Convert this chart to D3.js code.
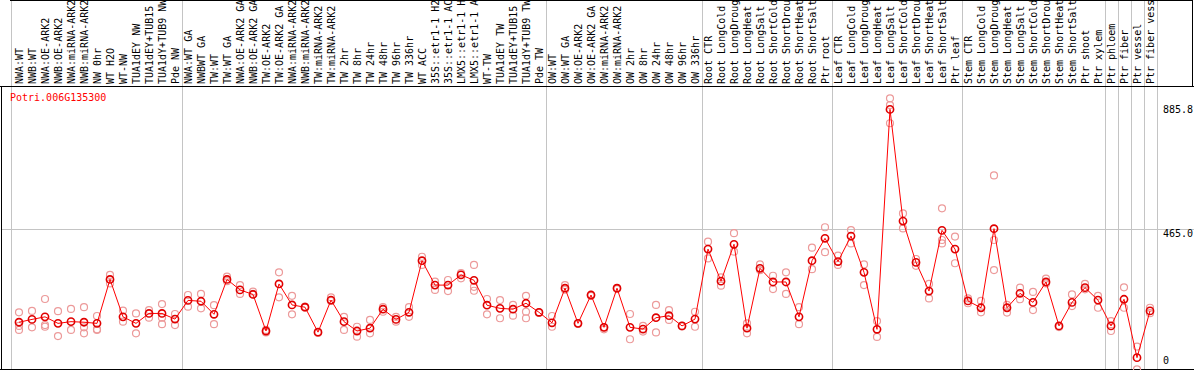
<!DOCTYPE html>
<html>
<head>
<meta charset="utf-8">
<script src="https://cdn.jsdelivr.net/npm/d3@7"></script>
<style>
  body { margin: 0; background: #ffffff; }
  svg { display: block; font-family: "DejaVu Sans Mono", monospace; }
</style>
</head>
<body>
<svg id="chart" width="1194" height="370"></svg>
<script>
const geneId = "Potri.006G135300";

// sample names, in plotting order
const samples = [
    "NWA:WT", "NWB:WT", "NWA:OE-ARK2", "NWB:OE-ARK2", "NWA:miRNA-ARK2", "NWB:miRNA-ARK2", "NW 0hr", "WT H2O", "WT-NW",
    "TUA1dEY NW", "TUA1dEY+TUB15 NW", "TUA1dY+TUB9 NW", "Pde NW",
    "NWA:WT GA", "NWBWT GA", "TW:WT", "TW:WT GA", "NWA:OE-ARK2 GA", "NWB:OE-ARK2 GA", "TW:OE-ARK2", "TW:OE-ARK2 GA",
    "NWA:miRNA-ARK2", "NWB:miRNA-ARK2", "TW:miRNA-ARK2", "TW:miRNA-ARK2", "TW 2hr", "TW 8hr", "TW 24hr", "TW 48hr",
    "TW 96hr", "TW 336hr", "WT ACC", "35S::etr1-1 H2O", "35S::etr1-1 ACC", "LMX5::etr1-1 H2O", "LMX5::etr1-1 ACC",
    "WT-TW", "TUA1dEY TW", "TUA1dEY+TUB15 TW", "TUA1dY+TUB9 TW", "Pde TW",
    "OW:WT", "OW:WT GA", "OW:OE-ARK2", "OW:OE-ARK2 GA", "OW:miRNA-ARK2", "OW:miRNA-ARK2", "OW 2hr", "OW 8hr",
    "OW 24hr", "OW 48hr", "OW 96hr", "OW 336hr",
    "Root CTR", "Root LongCold", "Root LongDrought", "Root LongHeat", "Root LongSalt", "Root ShortCold",
    "Root ShortDrought", "Root ShortHeat", "Root ShortSalt", "Ptr root",
    "Leaf CTR", "Leaf LongCold", "Leaf LongDrought", "Leaf LongHeat", "Leaf LongSalt", "Leaf ShortCold",
    "Leaf ShortDrought", "Leaf ShortHeat", "Leaf ShortSalt", "Ptr leaf",
    "Stem CTR", "Stem LongCold", "Stem LongDrought", "Stem LongHeat", "Stem LongSalt", "Stem ShortCold",
    "Stem ShortDrought", "Stem ShortHeat", "Stem ShortSalt", "Ptr shoot", "Ptr xylem",
    "Ptr phloem", "Ptr fiber", "Ptr vessel", "Ptr fiber vessel"
];

// number of samples in each experiment block (separated by grey lines)
const groupSizes = [13, 28, 12, 10, 10, 11, 1, 1, 1, 1];

const meanValues = [
    135, 145, 154, 131, 137, 135, 131, 286, 154, 131, 166, 166, 146,
    212, 209, 163, 286, 249, 233, 104, 270, 196, 188, 100, 213, 137, 104, 114, 181, 145, 170,
    352, 266, 266, 302, 283, 195, 184, 181, 202, 170,
    133, 255, 131, 231, 117, 255, 117, 111, 151, 158, 122, 146,
    393, 280, 410, 114, 325, 277, 277, 154, 352, 431,
    349, 439, 311, 110, 885.8, 492, 346, 245, 459, 393,
    210, 186, 465, 186, 237, 205, 277, 122, 205, 257, 213,
    122, 216, 10, 175
];

const replicateValues = [
    [170, 122, 108], [175, 117], [217, 125, 119], [174, 86], [182, 108], [188, 117, 96], [157, 110, 108],
    [302, 272], [176, 137], [166, 96], [178, 151], [199, 151, 128], [164, 125],
    [231, 190], [235, 184], [195, 128], [296, 280], [266, 235], [243, 235], [108, 99], [311, 223],
    [228, 163], [190, 186], [100, 97], [223, 210], [154, 108], [119, 84], [143, 96], [188, 172],
    [154, 137], [188, 154], [366, 337], [278, 249], [284, 245], [308, 290], [337, 260, 246],
    [217, 163], [213, 149], [196, 158], [228, 172, 149], [170, 168],
    [157, 119], [266, 250], [131, 129], [232, 228], [117, 110], [255, 252], [164, 75], [122, 102],
    [196, 99], [178, 143], [122, 120], [172, 119],
    [419, 360], [293, 264], [449, 384], [131, 96], [339, 319], [299, 252], [311, 235], [188, 128],
    [398, 322], [470, 382],
    [370, 337], [460, 413], [339, 266], [139, 83], [925, 901, 837], [519, 466], [358, 334], [270, 219],
    [537, 425, 413], [437, 343],
    [219, 202], [210, 170], [653, 425, 319], [196, 169], [257, 216], [242, 178], [289, 272], [120, 118],
    [233, 192], [270, 251], [228, 186],
    [139, 104], [258, 186], [49, -31], [186, 167]
];

const axisTicks = [0, 465.0, 885.8];
const gridTicks = [465.0];

// the label strip only has room for 14 characters
const maxLabelChars = 14;

const svg = d3.select("#chart");
const width = +svg.attr("width");
const height = +svg.attr("height");
const labelBottom = 86;
const plotBottom = 369;

const x = d3.scalePoint()
    .domain(d3.range(samples.length))
    .range([19, 1150]);

const y = d3.scaleLinear()
    .domain([0, 885.8])
    .range([360.5, 109.4]);

// separator positions between experiment blocks
const separators = [x(0) - x.step() * 0.65];
let idx = 0;
groupSizes.forEach((n, gi) => {
    idx += n;
    if (gi < groupSizes.length - 1) separators.push((x(idx - 1) + x(idx)) / 2);
    else separators.push(x(idx - 1) + x.step() / 2);
});

const grey = "#c4c4c4";

svg.selectAll(".sep")
    .data(separators)
    .join("line")
    .attr("class", "sep")
    .attr("x1", d => Math.round(d) + 0.5)
    .attr("x2", d => Math.round(d) + 0.5)
    .attr("y1", 0)
    .attr("y2", plotBottom)
    .attr("stroke", grey);

svg.selectAll(".grid")
    .data(gridTicks)
    .join("line")
    .attr("class", "grid")
    .attr("x1", 1)
    .attr("x2", width)
    .attr("y1", d => Math.round(y(d)) + 0.5)
    .attr("y2", d => Math.round(y(d)) + 0.5)
    .attr("stroke", grey);

// frame
const frame = svg.append("g").attr("stroke", "#000000").attr("stroke-width", 1);
frame.append("line").attr("x1", 10).attr("x2", 1193).attr("y1", 0.5).attr("y2", 0.5);
frame.append("line").attr("x1", 1192.5).attr("x2", 1192.5).attr("y1", 0).attr("y2", labelBottom);
frame.append("line").attr("x1", 0).attr("x2", width).attr("y1", labelBottom + 0.5).attr("y2", labelBottom + 0.5);
frame.append("line").attr("x1", 0).attr("x2", width).attr("y1", plotBottom + 0.5).attr("y2", plotBottom + 0.5);
frame.append("line").attr("x1", 1.5).attr("x2", 1.5).attr("y1", labelBottom).attr("y2", plotBottom);

// sample labels, rotated and cut to the strip height like the original
svg.append("g")
    .selectAll("text")
    .data(samples)
    .join("text")
    .attr("transform", (d, i) => `translate(${x(i) + 3.6}, 84) rotate(-90)`)
    .attr("font-size", "10px")
    .attr("fill", "#000000")
    .attr("xml:space", "preserve")
    .text(d => d.slice(0, maxLabelChars).trimEnd());

svg.append("text")
    .attr("x", 10)
    .attr("y", 100.5)
    .attr("font-size", "10px")
    .attr("fill", "#ff0000")
    .text(geneId);

// right value axis
svg.append("g")
    .attr("transform", "translate(1160, 0)")
    .call(d3.axisRight(y).tickValues(axisTicks).tickSize(0).tickPadding(3)
        .tickFormat(v => v === 0 ? "0" : v.toFixed(1)))
    .call(g => g.select(".domain").remove())
    .call(g => g.selectAll("text")
        .attr("font-family", "DejaVu Sans Mono, monospace")
        .attr("font-size", "10px")
        .attr("fill", "#000000")
        .attr("dy", d => d === 465 ? "0.75em" : "0.3em"));

// replicate points
const reps = [];
replicateValues.forEach((vals, i) => vals.forEach(v => reps.push({ i, v })));

svg.append("g")
    .selectAll("circle")
    .data(reps)
    .join("circle")
    .attr("cx", d => x(d.i))
    .attr("cy", d => y(d.v))
    .attr("r", 3.5)
    .attr("fill", "none")
    .attr("stroke", "#ec9a9a")
    .attr("stroke-width", 1.2);

const line = d3.line()
    .x((d, i) => x(i))
    .y(d => y(d));

svg.append("path")
    .datum(meanValues)
    .attr("fill", "none")
    .attr("stroke", "#ff0000")
    .attr("stroke-width", 1)
    .attr("d", line);

svg.append("g")
    .selectAll("circle")
    .data(meanValues)
    .join("circle")
    .attr("cx", (d, i) => x(i))
    .attr("cy", d => y(d))
    .attr("r", 3.6)
    .attr("fill", "none")
    .attr("stroke", "#e00000")
    .attr("stroke-width", 1.6);
</script>
</body>
</html>
